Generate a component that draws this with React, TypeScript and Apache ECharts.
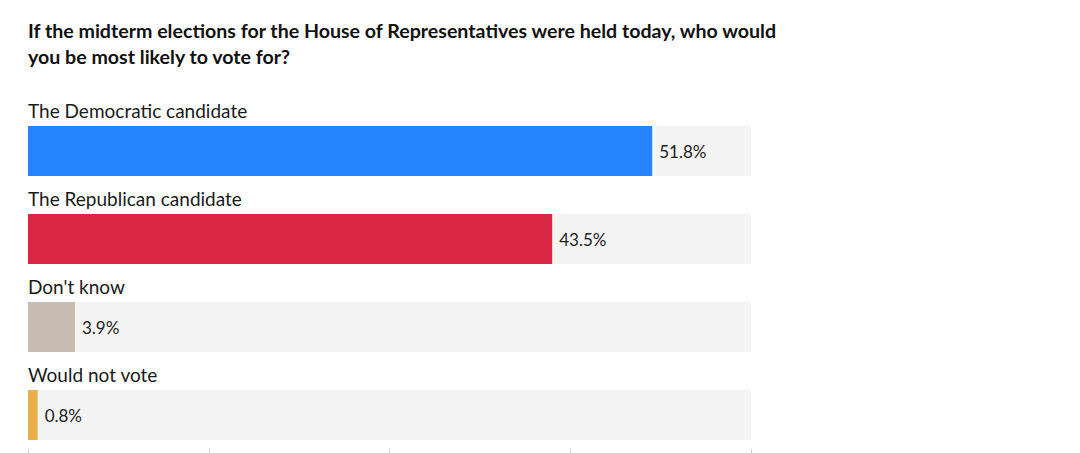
import React, { useEffect, useRef } from 'react'
import * as echarts from 'echarts'

const TITLE = 'If the midterm elections for the House of Representatives were held today, who would\nyou be most likely to vote for?'
const categories = ['The Democratic candidate', 'The Republican candidate', "Don't know", 'Would not vote']
const values = [51.8, 43.5, 3.9, 0.8]
const colors = ['#2684ff', '#d92644', '#c8bbb2', '#e8b04a']
const axisMax = 60
const axisStep = 15

const App: React.FC = () => {
  const chartRef = useRef<HTMLDivElement>(null)

  useEffect(() => {
    document.body.style.margin = '0'
    if (!chartRef.current) return
    const chart = echarts.init(chartRef.current, null, { renderer: 'svg' })

    const option: any = {
      animation: false,
      backgroundColor: '#ffffff',
      textStyle: { fontFamily: 'Lato' },
      title: {
        text: TITLE,
        left: 28,
        top: 17,
        padding: 0,
        textStyle: {
          fontFamily: 'Lato',
          fontSize: 19.6,
          fontWeight: 'bold',
          color: '#111',
          lineHeight: 26
        }
      },
      grid: {
        left: 28,
        top: 107,
        width: 723,
        height: 352,
        containLabel: false,
        outerBoundsMode: 'none'
      },
      xAxis: {
        type: 'value',
        min: 0,
        max: axisMax,
        interval: axisStep,
        offset: -10,
        axisLine: { show: false },
        axisTick: { show: true, length: 4, lineStyle: { color: '#cfcfcf' } },
        axisLabel: { show: false },
        splitLine: { show: false }
      },
      yAxis: {
        type: 'category',
        inverse: true,
        data: categories,
        axisLine: { show: false },
        axisTick: { show: false },
        axisLabel: { show: false }
      },
      series: [
        {
          // carries the category names above each bar
          type: 'bar',
          barWidth: 50,
          barGap: '-100%',
          silent: true,
          itemStyle: { color: 'rgba(0,0,0,0)' },
          data: categories.map(() => axisMax),
          label: {
            show: true,
            position: [0, -25],
            formatter: (p: any) => p.name,
            fontFamily: 'Lato',
            fontSize: 19,
            color: '#1a1a1a'
          }
        },
        {
          type: 'bar',
          barWidth: 50,
          barGap: '-100%',
          showBackground: true,
          backgroundStyle: { color: '#f4f4f4' },
          data: values.map((v, i) => ({ value: v, itemStyle: { color: colors[i] } })),
          label: {
            show: true,
            position: 'right',
            distance: 7,
            formatter: (p: any) => `${p.value}%`,
            fontFamily: 'Lato',
            fontSize: 17,
            color: '#222'
          }
        }
      ]
    }

    chart.setOption(option)
    return () => chart.dispose()
  }, [])

  return <div ref={chartRef} style={{ width: 1080, height: 453 }} />
}

export default App
